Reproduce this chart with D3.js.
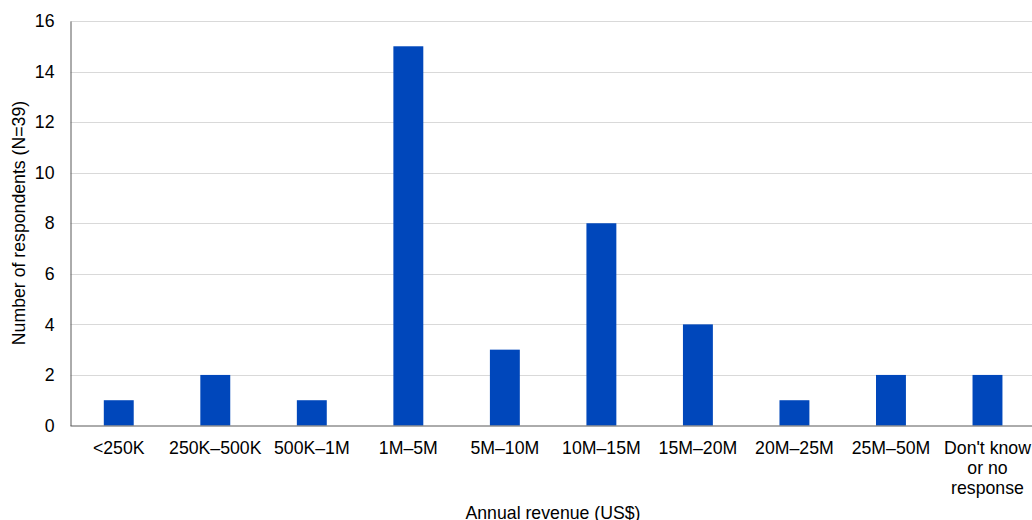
<!DOCTYPE html>
<html><head><meta charset="utf-8">
<script src="https://cdn.jsdelivr.net/npm/d3@7/dist/d3.min.js"></script>
<style>body{margin:0;background:#fff;}svg{display:block;font-family:"Liberation Sans",Arial,sans-serif;}</style>
</head><body>
<svg id="c" width="1032" height="520"></svg>
<script>
const categories = ["<250K","250K–500K","500K–1M","1M–5M","5M–10M","10M–15M","15M–20M","20M–25M","25M–50M","Don't know\nor no\nresponse"];
const values = [1,2,1,15,3,8,4,1,2,2];
const yTicks = [0,2,4,6,8,10,12,14,16];
const xTitle = "Annual revenue (US$)";
const yTitle = "Number of respondents (N=39)";

const svg = d3.select("#c");
const fs = "17.7px";
const pLeft = 70.5, pRight = 1035.75, pTop = 21, pBottom = 425.5;
const x = d3.scaleBand().domain(categories).range([pLeft, pRight]).paddingInner(0.69).paddingOuter(0.345);
const y = d3.scaleLinear().domain([0,16]).range([pBottom, pTop]);

// gridlines
svg.append("g").selectAll("line").data(yTicks.filter(d=>d>0)).join("line")
  .attr("x1", pLeft).attr("x2", 1032).attr("y1", d=>Math.round(y(d))+0.5).attr("y2", d=>Math.round(y(d))+0.5)
  .attr("stroke", "#d9d9d9").attr("stroke-width", 1);

// bars
svg.append("g").selectAll("rect").data(values).join("rect")
  .attr("x", (d,i)=>x(categories[i])).attr("width", x.bandwidth())
  .attr("y", d=>y(d)).attr("height", d=>pBottom - y(d))
  .attr("fill", "#0047bb");

// y axis
const ya = svg.append("g").attr("transform", `translate(${pLeft},0)`)
  .call(d3.axisLeft(y).tickValues(yTicks).tickSize(0).tickPadding(16));
ya.select(".domain").attr("stroke", "#595959");
ya.selectAll("text").attr("font-size", fs).attr("fill", "#000").attr("font-family", "Liberation Sans, Arial, sans-serif");

// x axis
const xa = svg.append("g").attr("transform", `translate(0,${pBottom})`)
  .call(d3.axisBottom(x).tickSize(0).tickFormat(""));
xa.select(".domain").attr("stroke", "#595959").attr("d", `M${pLeft},0.5H1032`);
xa.selectAll(".tick").each(function(d){
  const lines = d.split("\n");
  const t = d3.select(this).append("text").attr("fill","#000").attr("font-size",fs)
    .attr("text-anchor","middle").attr("font-family","Liberation Sans, Arial, sans-serif");
  lines.forEach((l,i)=>t.append("tspan").attr("x",0).attr("y", 28 + i*20).text(l));
});

svg.append("text").attr("x", 553).attr("y", 519).attr("text-anchor","middle")
  .attr("font-size",fs).text(xTitle);
svg.append("text").attr("transform","translate(25,223) rotate(-90)").attr("text-anchor","middle")
  .attr("font-size",fs).text(yTitle);
</script>
</body></html>
